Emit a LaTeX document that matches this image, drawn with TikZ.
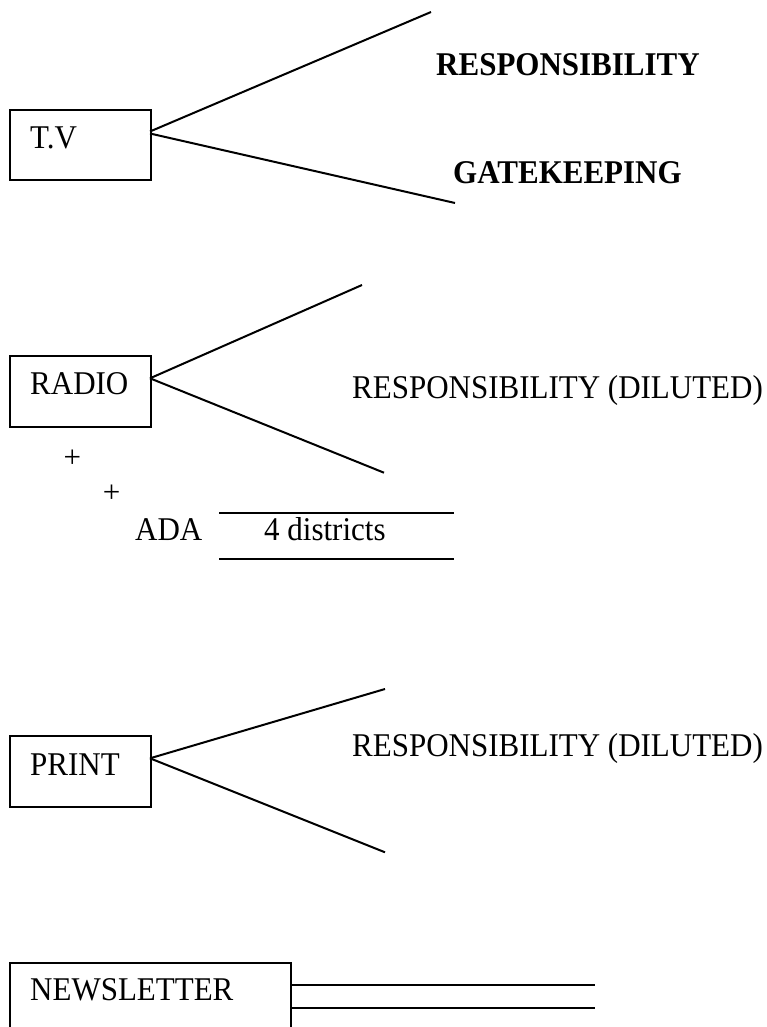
\documentclass[tikz,border=0pt]{standalone}
\usepackage{graphicx}
\usepackage{fontspec}
\setmainfont{Liberation Serif}
\newcommand\talltxt[1]{\scalebox{1}[1.07]{#1}}
\begin{document}
\begin{tikzpicture}[x=1pt,y=-1pt,
  box/.style={draw,line width=2pt,inner sep=0pt,anchor=north west},
  lbl/.style={inner sep=0pt,anchor=base west,font=\fontsize{31}{37}\selectfont},
  blbl/.style={inner sep=0pt,anchor=base west,font=\fontsize{31}{37}\selectfont\bfseries},
  plus/.style={inner sep=0pt,anchor=base,font=\fontsize{31}{37}\selectfont},
  ln/.style={line width=2pt}]
\path[use as bounding box] (0,0) rectangle (766,1027);
\clip (0,0) rectangle (766,1027);
% T.V
\node[box,minimum width=141pt,minimum height=70pt] (tv) at (9,109.5) {};
\node[lbl] (tvt) at (30,148.3) {\talltxt{T.V}};
\coordinate (tvo1) at (150,131.5);
\coordinate (tvo2) at (150,133.5);
\coordinate (tvu) at (431,12);
\coordinate (tvd) at (455,203);
\draw[ln] (tvo1) -- (tvu);
\draw[ln] (tvo2) -- (tvd);
\node[blbl] (resp) at (436,76) {\talltxt{RESPONSIBILITY}};
\node[blbl] (gate) at (453,183) {\talltxt{GATEKEEPING}};
% RADIO
\node[box,minimum width=141pt,minimum height=70.5pt] (radio) at (9,355.2) {};
\node[lbl] (radiot) at (30,394) {\talltxt{RADIO}};
\coordinate (ro) at (150,378.3);
\coordinate (ru) at (362,285);
\coordinate (rd) at (384,472.7);
\draw[ln] (ro) -- (ru);
\draw[ln] (ro) -- (rd);
\node[lbl] (rresp) at (352,398) {\talltxt{RESPONSIBILITY (DILUTED)}};
\node[plus] (p1) at (72.3,467.2) {+};
\node[plus] (p2) at (111.7,502.8) {+};
\node[lbl] (ada) at (135,540.7) {\talltxt{ADA}};
\node[lbl] (dist) at (264,540.7) {\talltxt{4 districts}};
\coordinate (a1) at (219,512.7);
\coordinate (a2) at (454,512.7);
\coordinate (b1) at (219,559.3);
\coordinate (b2) at (454,559.3);
\draw[ln] (a1) -- (a2);
\draw[ln] (b1) -- (b2);
% PRINT
\node[box,minimum width=141pt,minimum height=70.5pt] (print) at (9,735.2) {};
\node[lbl] (printt) at (30,775) {\talltxt{PRINT}};
\coordinate (po) at (150,758.3);
\coordinate (pu) at (385,689);
\coordinate (pd) at (385,852.3);
\draw[ln] (po) -- (pu);
\draw[ln] (po) -- (pd);
\node[lbl] (presp) at (352,756.7) {\talltxt{RESPONSIBILITY (DILUTED)}};
% NEWSLETTER
\node[box,minimum width=281pt,minimum height=100pt] (news) at (9,961.7) {};
\node[lbl] (newst) at (30,1000.7) {\talltxt{NEWSLETTER}};
\coordinate (n1) at (290,984.5);
\coordinate (n1e) at (595,984.5);
\coordinate (n2) at (290,1008.3);
\coordinate (n2e) at (595,1008.3);
\draw[ln] (n1) -- (n1e);
\draw[ln] (n2) -- (n2e);
\end{tikzpicture}
\end{document}
